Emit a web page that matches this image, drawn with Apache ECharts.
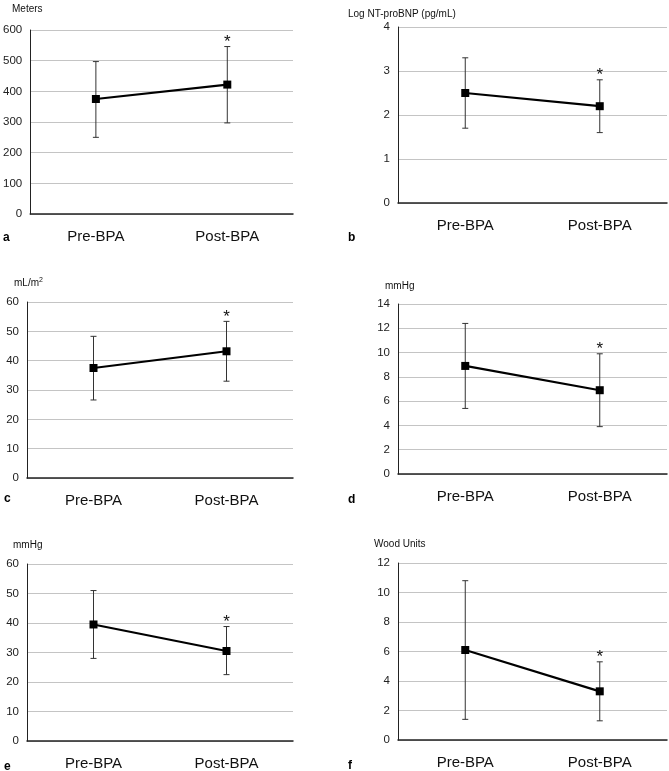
<!DOCTYPE html>
<html>
<head>
<meta charset="utf-8">
<script src="https://cdn.jsdelivr.net/npm/echarts@6/dist/echarts.min.js"></script>
<style>html,body{margin:0;padding:0;background:#fff}#c{width:669px;height:771px}</style>
</head>
<body>
<div id="c"></div>
<script>
var categories = ['Pre-BPA', 'Post-BPA'];
var panelLetters = ['a', 'b', 'c', 'd', 'e', 'f'];
var unitLabels = ['Meters', 'Log NT-proBNP (pg/mL)', 'mL/m{sup|2}', 'mmHg', 'mmHg', 'Wood Units'];
var yMax = [600, 4, 60, 14, 60, 12];
var yStep = [100, 1, 10, 2, 10, 2];
var meanA = [375, 422], lowA = [250, 297], highA = [497, 546];
var meanB = [2.5, 2.2], lowB = [1.7, 1.6], highB = [3.3, 2.8];
var meanC = [37.5, 43.2], lowC = [26.6, 33.0], highC = [48.3, 53.4];
var meanD = [8.9, 6.9], lowD = [5.4, 3.9], highD = [12.4, 9.9];
var meanE = [39.5, 30.5], lowE = [28.0, 22.5], highE = [51.0, 38.8];
var meanF = [6.1, 3.3], lowF = [1.4, 1.3], highF = [10.8, 5.3];
var significant = [false, true];

var means = [meanA, meanB, meanC, meanD, meanE, meanF];
var lows = [lowA, lowB, lowC, lowD, lowE, lowF];
var highs = [highA, highB, highC, highD, highE, highF];

// layout (px)
var grids = [
  {left: 27, top: 30, width: 266, height: 184},
  {left: 398, top: 27, width: 269, height: 176},
  {left: 27, top: 302, width: 266, height: 176},
  {left: 398, top: 304, width: 269, height: 170},
  {left: 27, top: 564, width: 266, height: 178},
  {left: 398, top: 563, width: 269, height: 177}
];
var unitPos = [[12, 4], [348, 9], [14, 277], [385, 281], [13, 540], [374, 539]];
var letterPos = [[3, 232], [348, 232], [4, 493], [348, 494], [4, 761], [348, 760]];

var font = 'Arial, "Liberation Sans", sans-serif';
var option = {
  backgroundColor: '#fff',
  animation: false,
  grid: [], xAxis: [], yAxis: [], series: [], title: []
};

for (var i = 0; i < 6; i++) {
  var g = grids[i];
  option.grid.push({left: g.left, top: g.top, width: g.width, height: g.height, containLabel: false});
  option.xAxis.push({
    type: 'category', gridIndex: i, data: categories, boundaryGap: true,
    axisLine: {lineStyle: {color: '#222', width: 1.5}},
    axisTick: {show: false},
    axisLabel: {color: '#111', fontSize: 15, fontFamily: font, margin: 15},
    splitLine: {show: false}
  });
  option.yAxis.push({
    type: 'value', gridIndex: i, min: 0, max: yMax[i], interval: yStep[i],
    axisLine: {show: true, lineStyle: {color: '#222', width: 1}},
    axisTick: {show: false},
    axisLabel: {color: '#222', fontSize: 11.5, fontFamily: font, margin: 8},
    splitLine: {show: true, lineStyle: {color: '#c4c4c4', width: 1}}
  });
  var errData = [];
  for (var k = 0; k < categories.length; k++) {
    errData.push([k, lows[i][k], highs[i][k], significant[k] ? 1 : 0]);
  }
  option.series.push({
    type: 'custom', xAxisIndex: i, yAxisIndex: i, z: 3,
    data: errData,
    encode: {x: 0, y: [1, 2]},
    renderItem: function (params, api) {
      var lo = api.coord([api.value(0), api.value(1)]);
      var hi = api.coord([api.value(0), api.value(2)]);
      var w = 3;
      var st = {stroke: '#333', lineWidth: 1};
      var ch = [
        {type: 'line', shape: {x1: lo[0], y1: lo[1], x2: hi[0], y2: hi[1]}, style: st},
        {type: 'line', shape: {x1: lo[0] - w, y1: lo[1], x2: lo[0] + w, y2: lo[1]}, style: st},
        {type: 'line', shape: {x1: hi[0] - w, y1: hi[1], x2: hi[0] + w, y2: hi[1]}, style: st}
      ];
      if (api.value(3) === 1) {
        ch.push({type: 'text', style: {text: '*', x: hi[0], y: hi[1] + 4, textAlign: 'center', textVerticalAlign: 'bottom', fontSize: 17, fontFamily: font, fill: '#111'}});
      }
      return {type: 'group', children: ch};
    }
  });
  option.series.push({
    type: 'line', xAxisIndex: i, yAxisIndex: i, z: 5,
    data: means[i],
    symbol: 'rect', symbolSize: 8,
    lineStyle: {color: '#000', width: 2.2},
    itemStyle: {color: '#000'}
  });
  option.title.push({
    text: unitLabels[i], left: unitPos[i][0], top: unitPos[i][1], padding: 0,
    textStyle: {fontSize: 10, fontWeight: 'normal', color: '#111', fontFamily: font,
      rich: {sup: {fontSize: 7, verticalAlign: 'top', padding: [0, 0, 6, 0], color: '#111', fontFamily: font}}}
  });
  option.title.push({
    text: panelLetters[i], left: letterPos[i][0], top: letterPos[i][1], padding: 0,
    textStyle: {fontSize: 12, fontWeight: 'bold', color: '#000', fontFamily: font}
  });
}

var chart = echarts.init(document.getElementById('c'), null, {renderer: 'canvas'});
chart.setOption(option);
</script>
</body>
</html>
